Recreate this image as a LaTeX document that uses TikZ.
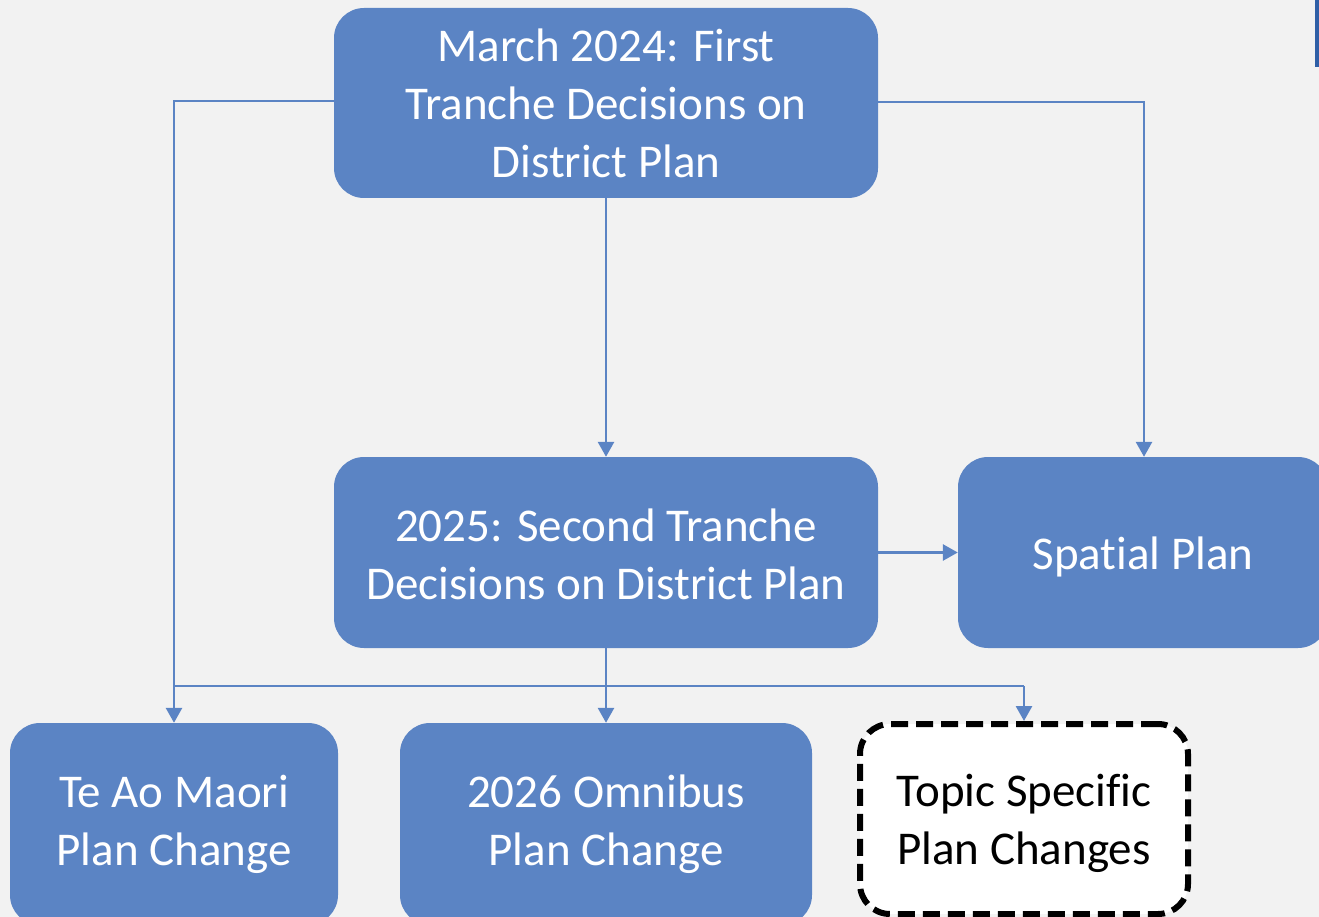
\documentclass[tikz,border=0pt]{standalone}
\usepackage{fontspec}
\setmainfont[Ligatures={NoCommon}]{Carlito}
\usetikzlibrary{arrows.meta}
\definecolor{bg}{HTML}{F2F2F2}
\definecolor{boxblue}{HTML}{5B84C4}
\definecolor{linkblue}{HTML}{5B84C4}
\definecolor{barblue}{HTML}{2F5FA6}
\newcommand{\lowerby}[2]{\raisebox{-#1}[\height][\depth]{#2}}
\begin{document}
\begin{tikzpicture}[x=1pt,y=-1pt,
  box/.style={fill=boxblue, rounded corners=30pt, draw=none, text=white, align=center,
    font=\fontsize{47}{58}\selectfont, inner sep=0pt},
  dbox/.style={fill=white, rounded corners=30pt, draw=black, line width=6pt,
    dash pattern=on 17pt off 8pt, text=black, align=center,
    font=\fontsize{47}{58}\selectfont, inner sep=0pt},
  link/.style={draw=linkblue, line width=2.8pt, -{Triangle[length=15pt,width=16pt]}},
  plain/.style={draw=linkblue, line width=2.8pt}]
\fill[bg] (0,0) rectangle (1319,917);
\useasboundingbox (0,0) rectangle (1319,917);
\fill[barblue] (1315,0) rectangle (1319,67);
\begin{scope}
\clip (0,0) rectangle (1319,917);
\node[box, minimum width=544pt, minimum height=190pt] (top) at (606,103) {March 2024: First\\Tranche Decisions on\\District Plan};
\node[box, minimum width=544pt, minimum height=191pt] (mid) at (606,552.5) {\lowerby{2pt}{2025: Second Tranche}\\\lowerby{2pt}{Decisions on District Plan}};
\node[box, minimum width=370pt, minimum height=191pt] (spat) at (1143,552.5) {\lowerby{4pt}{Spatial Plan}};
\node[box, minimum width=328pt, minimum height=202pt] (maori) at (174,824) {Te Ao Maori\\Plan Change};
\node[box, minimum width=412pt, minimum height=202pt] (omni) at (606,824) {2026 Omnibus\\Plan Change};
\node[dbox, minimum width=328pt, minimum height=190pt] (topic) at (1024,819) {\lowerby{4pt}{Topic Specific}\\\lowerby{4pt}{Plan Changes}};
\end{scope}
\coordinate (j1) at (174,101);
\coordinate (j2) at (1144,102);
\coordinate (h1) at (174,686);
\coordinate (h2) at (1024,686);
\draw[link] (top.west |- j1) -- (j1) -- (maori.north);
\draw[link] (top.east |- j2) -- (j2) -- (spat.north -| j2);
\draw[link] (top.south) -- (mid.north);
\draw[link] (mid.east) -- (spat.west);
\draw[link] (mid.south) -- (omni.north);
\draw[plain] (h1) -- (h2);
\draw[link] (h2) -- (topic.north);
\end{tikzpicture}
\end{document}
